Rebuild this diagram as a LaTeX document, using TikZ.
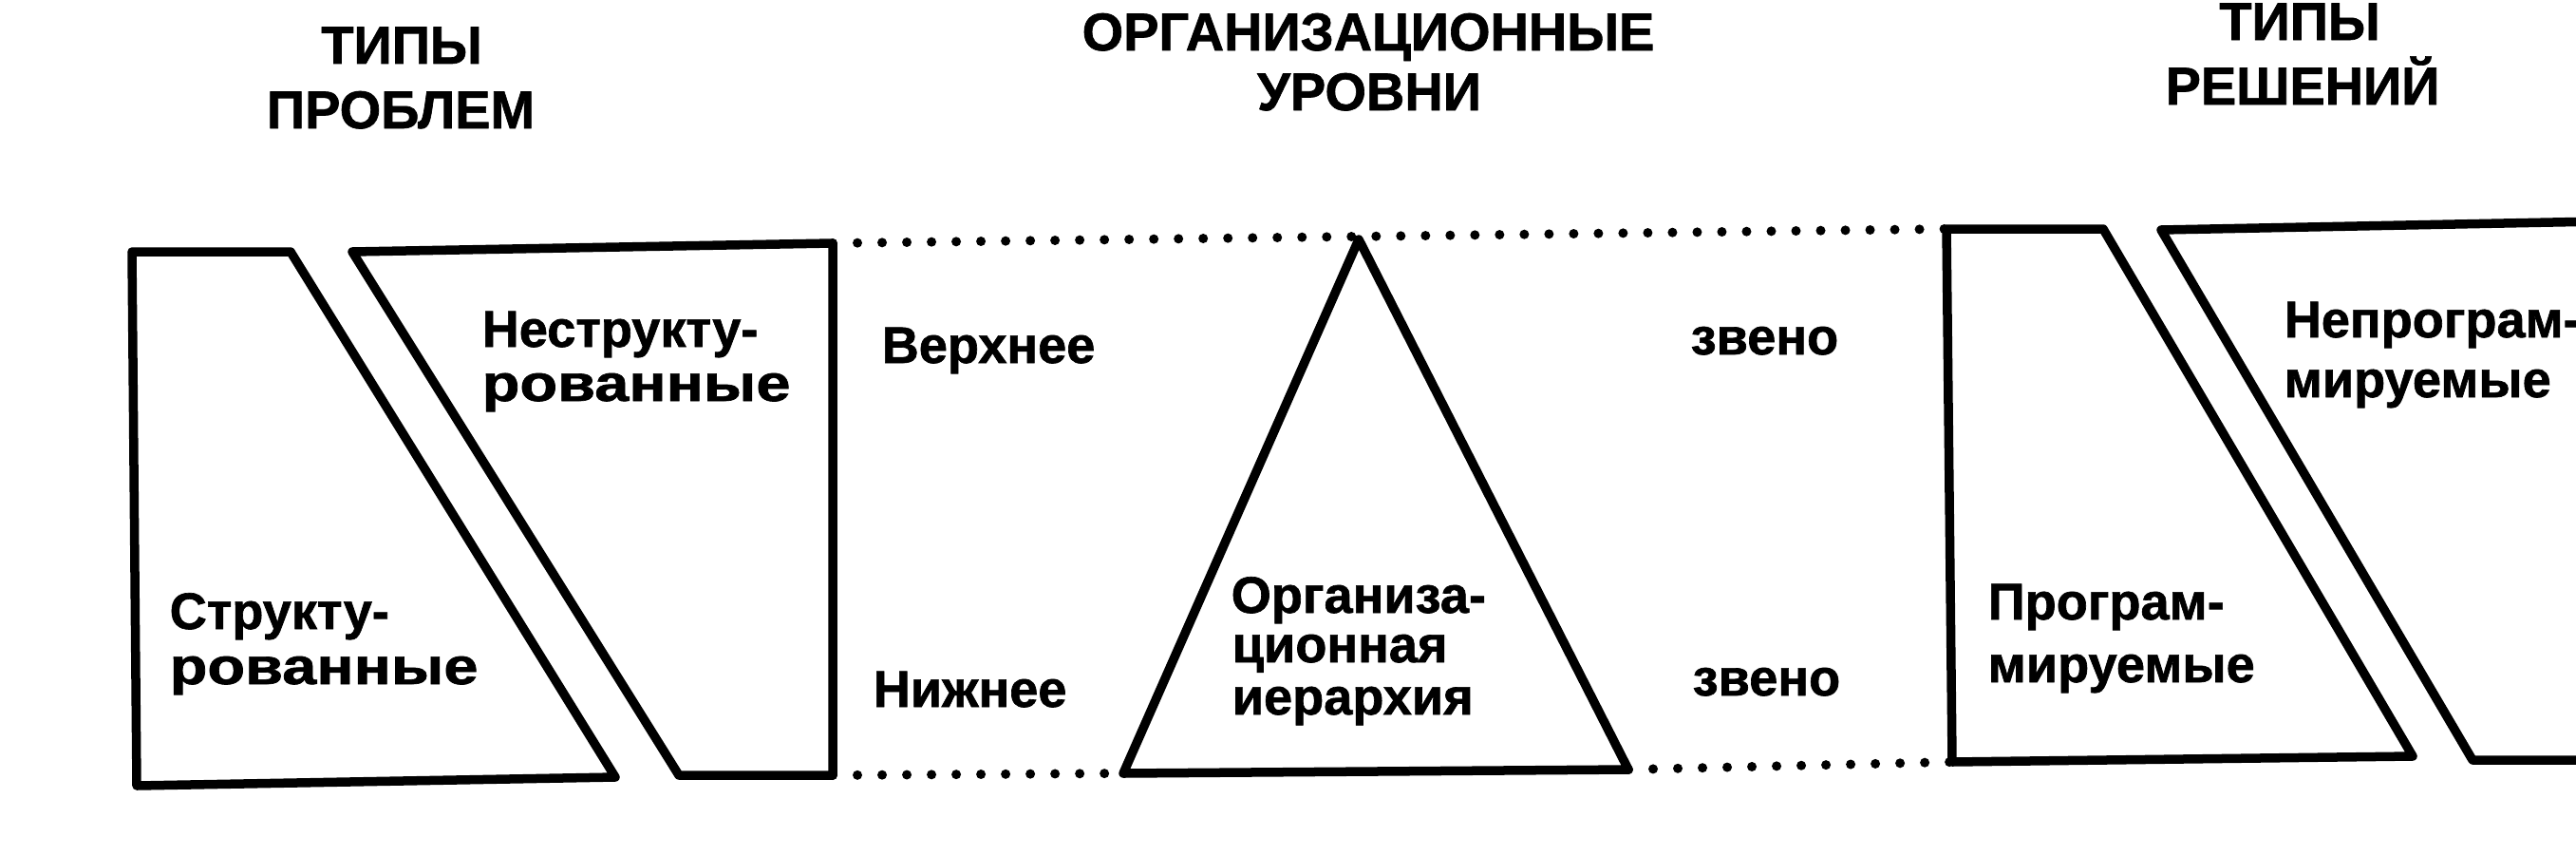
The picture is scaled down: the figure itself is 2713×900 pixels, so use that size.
\documentclass[tikz,border=0pt]{standalone}
\usepackage{fontspec}
\setmainfont{Liberation Sans}[BoldFeatures={FakeBold=1.2}]
\begin{document}
\begin{tikzpicture}[x=0.01cm,y=-0.01cm]
\tikzset{
  shapeline/.style={line width=0.095cm, line join=round},
  dotline/.style={line width=0.1cm, line cap=round, dash pattern=on 0cm off 0.26cm},
  lbl/.style={inner sep=0pt, anchor=base west, font=\bfseries\fontsize{15.4pt}{18pt}\selectfont},
  ttl/.style={inner sep=0pt, anchor=base, font=\bfseries\fontsize{15.9pt}{19pt}\selectfont},
}
\useasboundingbox (0,0) rectangle (2713,900);
\fill[white] (0,0) rectangle (2713,900);
\clip (0,0) rectangle (2713,900);

% corner coordinates
\coordinate (a1) at (139,265);
\coordinate (a2) at (306,265);
\coordinate (a3) at (648,818);
\coordinate (a4) at (144,827);
\coordinate (b1) at (371,265);
\coordinate (b2) at (877,256);
\coordinate (b3) at (877,816);
\coordinate (b4) at (715,816);
\coordinate (t1) at (1431,252);
\coordinate (t2) at (1715,810);
\coordinate (t3) at (1183,814);
\coordinate (c1) at (2050,241);
\coordinate (c2) at (2215,241);
\coordinate (c3) at (2541,796);
\coordinate (c4) at (2056,802);
\coordinate (d1) at (2276,242);
\coordinate (d2) at (2740,233);
\coordinate (d3) at (2740,800);
\coordinate (d4) at (2604,800);

% shapes
\draw[shapeline] (a1) -- (a2) -- (a3) -- (a4) -- cycle;
\draw[shapeline] (b1) -- (b2) -- (b3) -- (b4) -- cycle;
\draw[shapeline] (t1) -- (t2) -- (t3) -- cycle;
\draw[shapeline] (c1) -- (c2) -- (c3) -- (c4) -- cycle;
\draw[shapeline] (d1) -- (d2) -- (d3) -- (d4) -- cycle;

% dotted level lines
\draw[dotline] (b2) -- (c1);
\draw[dotline] (b3) -- (t3);
\draw[dotline] (t2) -- (c4);

% titles
\node[ttl] (h1a) at (423,67) {ТИПЫ};
\node[ttl] (h1b) at (422,135) {ПРОБЛЕМ};
\node[ttl] (h2a) at (1441,53) {ОРГАНИЗАЦИОННЫЕ};
\node[ttl] (h2b) at (1442,116) {УРОВНИ};
\node[ttl] (h3a) at (2422,42) {ТИПЫ};
\node[ttl] (h3b) at (2425,110) {РЕШЕНИЙ};

% labels
\node[lbl] (s1a) at (178,662) {Структу-};
\node[lbl] (s1b) at (178,720) {\scalebox{1.2}[1]{рованные}};
\node[lbl] (n1a) at (507,365) {Неструкту-};
\node[lbl] (n1b) at (507,422) {\scalebox{1.2}[1]{рованные}};
\node[lbl] (up) at (928,382) {Верхнее};
\node[lbl] (low) at (919,744) {Нижнее};
\node[lbl] (z1) at (1780,373) {звено};
\node[lbl] (z2) at (1782,732) {звено};
\node[lbl] (o1) at (1296,645) {Организа-};
\node[lbl] (o2) at (1297,697) {ционная};
\node[lbl] (o3) at (1297,752) {иерархия};
\node[lbl] (p1a) at (2093,652) {Програм-};
\node[lbl] (p1b) at (2093,718) {мируемые};
\node[lbl] (q1a) at (2405,355) {Непрограм-};
\node[lbl] (q1b) at (2405,418) {мируемые};
\end{tikzpicture}
\end{document}
